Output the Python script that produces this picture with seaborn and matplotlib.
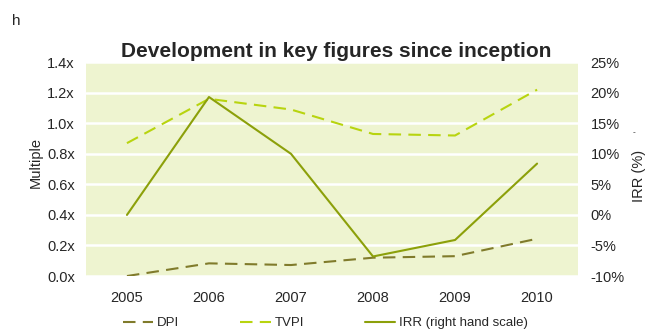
import numpy as np, pandas as pd
import matplotlib; matplotlib.use("Agg")
import matplotlib.pyplot as plt
import seaborn as sns
from matplotlib.lines import Line2D

years = ['2005', '2006', '2007', '2008', '2009', '2010']
dpi = [0.0, 0.083, 0.072, 0.12, 0.13, 0.244]
tvpi = [0.87, 1.16, 1.09, 0.93, 0.92, 1.22]
irr = [0.0, 19.3, 10.0, -6.8, -4.1, 8.4]

C_DPI = '#807b2b'; C_TVPI = '#b8d40f'; C_IRR = '#8ca00a'; BG = '#eef4d0'

sns.set_style("white")
plt.rcParams['font.family'] = ['Liberation Sans', 'DejaVu Sans']

df = pd.DataFrame({'year': years, 'DPI': dpi, 'TVPI': tvpi, 'IRR': irr})

fig = plt.figure(figsize=(6.51, 3.29), dpi=100)
ax = fig.add_axes([0.132, 0.161, 0.756, 0.650])
ax.set_facecolor(BG)
sns.lineplot(data=df, x='year', y='DPI', ax=ax, color=C_DPI, lw=1.5, sort=False)
sns.lineplot(data=df, x='year', y='TVPI', ax=ax, color=C_TVPI, lw=1.5, sort=False)
ax.lines[0].set_dashes([6, 3.5]); ax.lines[1].set_dashes([6, 3.5])
ax.set_ylim(0, 1.4)
ax.set_yticks(np.arange(0, 1.41, 0.2))
ax.set_yticklabels([f"{v:.1f}x" for v in np.arange(0, 1.41, 0.2)])
ax.yaxis.grid(True, color='white', lw=1.8); ax.set_axisbelow(True)
ax.set_xlabel(''); ax.set_ylabel('Multiple', fontsize=10.5)
ax.yaxis.set_label_coords(-0.087, 0.53)
for s in ax.spines.values(): s.set_visible(False)
ax.tick_params(axis='both', length=0, labelsize=10.5)
ax.tick_params(axis='x', pad=11)
ax.tick_params(axis='y', pad=8)

ax2 = ax.twinx()
sns.lineplot(data=df, x='year', y='IRR', ax=ax2, color=C_IRR, lw=1.5, sort=False)
ax2.set_ylim(-10, 25)
ax2.set_yticks(range(-10, 26, 5))
ax2.set_yticklabels([f"{v}%" for v in range(-10, 26, 5)])
ax2.set_ylabel('IRR (%)', fontsize=10.5)
ax2.yaxis.set_label_coords(1.11, 0.47)
for s in ax2.spines.values(): s.set_visible(False)
ax2.tick_params(axis='y', length=0, labelsize=10.5, pad=9)
ax.set_xlim(-0.5, 5.5)

fig.text(0.516, 0.842, 'Development in key figures since inception', ha='center', va='center',
         fontsize=15, fontweight='bold')
fig.text(0.018, 0.924, 'h', fontsize=11, va='baseline')
fig.text(0.974, 0.596, '-', fontsize=6, ha='center', va='center')

handles = [Line2D([], [], color=C_DPI, lw=1.5, dashes=[6, 3.5]),
           Line2D([], [], color=C_TVPI, lw=1.5, dashes=[6, 3.5]),
           Line2D([], [], color=C_IRR, lw=1.5)]
fig.legend(handles, ['DPI', 'TVPI', 'IRR (right hand scale)'], loc='center', bbox_to_anchor=(0.50, 0.018),
           ncol=3, frameon=False, fontsize=9.5, handlelength=2.3, columnspacing=4.6, handletextpad=0.3)
fig.savefig('out.png', dpi=100)
